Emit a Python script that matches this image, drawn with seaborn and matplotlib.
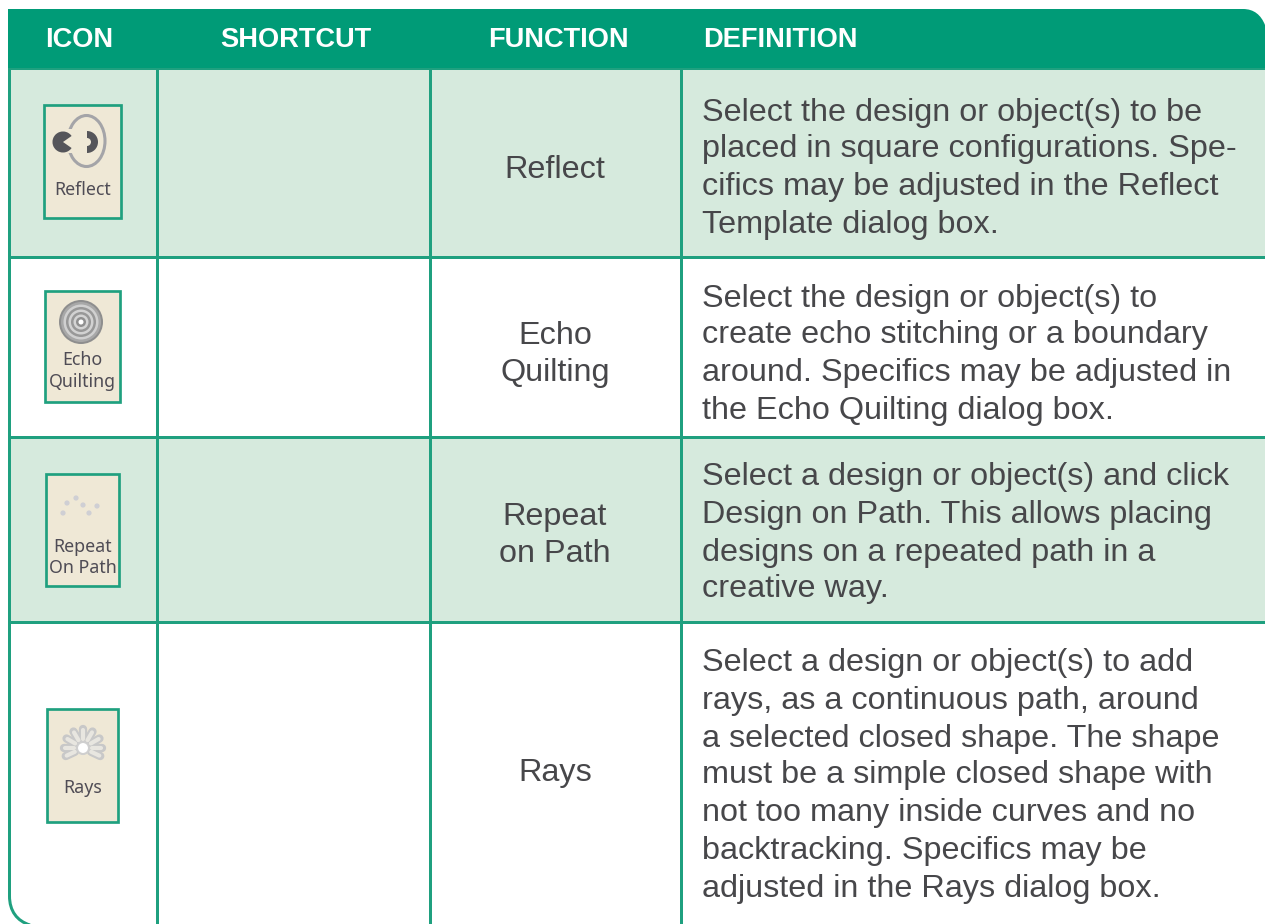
import numpy as np
import matplotlib
matplotlib.use("Agg")
import matplotlib.pyplot as plt
from matplotlib.patches import Rectangle, Circle, PathPatch, Wedge, Ellipse
from matplotlib.path import Path
import seaborn as sns

headers = ["ICON", "SHORTCUT", "FUNCTION", "DEFINITION"]
header_x = [45, 220, 488, 703]
functions = [["Reflect"], ["Echo", "Quilting"], ["Repeat", "on Path"], ["Rays"]]
function_y = [[167], [333, 370], [513, 550], [769]]
definitions = [
    ["Select the design or object(s) to be", "placed in square configurations. Spe-",
     "cifics may be adjusted in the Reflect", "Template dialog box."],
    ["Select the design or object(s) to", "create echo stitching or a boundary",
     "around. Specifics may be adjusted in", "the Echo Quilting dialog box."],
    ["Select a design or object(s) and click", "Design on Path. This allows placing",
     "designs on a repeated path in a", "creative way."],
    ["Select a design or object(s) to add", "rays, as a continuous path, around",
     "a selected closed shape. The shape", "must be a simple closed shape with",
     "not too many inside curves and no", "backtracking. Specifics may be",
     "adjusted in the Rays dialog box."],
]
definition_y = [[109, 146, 184, 221], [295, 332, 369, 407], [474, 511, 549, 586],
                [660, 697, 735, 772, 810, 847, 885]]
row_edges = [68, 257, 437, 622, 924]
col_edges = [157, 430, 681]
icon_boxes = [(44, 105, 121, 218), (45, 291, 120, 402), (46, 474, 119, 586), (47, 709, 118, 822)]
icon_labels = [[("Reflect", 188)], [("Echo", 358), ("Quilting", 380)],
               [("Repeat", 545), ("On Path", 566)], [("Rays", 786)]]

GREEN = "#009b77"
LINE = "#1fa07f"
BAND = "#d6eadd"
CREAM = "#efe8d6"
TEXT = "#47474a"
ICON_TEXT = "#4f4c55"

sns.set_theme(style="white")
plt.rcParams["font.family"] = ["Liberation Sans", "DejaVu Sans"]

fig = plt.figure(figsize=(12.65, 9.24), dpi=100, facecolor="white")
ax = fig.add_axes([0, 0, 1, 1])
ax.set_xlim(0, 1265)
ax.set_ylim(924, 0)
ax.axis("off")

# row bands
for i in (0, 2):
    ax.add_patch(Rectangle((9, row_edges[i]), 1256, row_edges[i + 1] - row_edges[i],
                           fc=BAND, ec="none", zorder=1))

# header with rounded top-right corner
verts = [(8, 68), (8, 9), (1243, 9), (1254, 9), (1261, 15), (1265, 25), (1265, 68), (8, 68)]
codes = [Path.MOVETO, Path.LINETO, Path.LINETO, Path.CURVE4, Path.CURVE4, Path.CURVE4,
         Path.LINETO, Path.CLOSEPOLY]
ax.add_patch(PathPatch(Path(verts, codes), fc=GREEN, ec="none", zorder=3))

lw = 3 * 72 / 100
# left border with rounded lower corner
verts = [(9.5, 68), (9.5, 896), (9.5, 911), (17, 921), (30, 925)]
codes = [Path.MOVETO, Path.LINETO, Path.CURVE4, Path.CURVE4, Path.CURVE4]
ax.add_patch(PathPatch(Path(verts, codes), fc="none", ec=LINE, lw=lw, zorder=2))
for x in col_edges:
    ax.plot([x, x], [68, 924], color=LINE, lw=lw, solid_capstyle="butt", zorder=2)
for y in row_edges[:-1]:
    ax.plot([9, 1265], [y, y], color=LINE, lw=lw, solid_capstyle="butt", zorder=2)

# header text
for h, x in zip(headers, header_x):
    ax.text(x, 37, h, color="white", fontsize=19.6, fontweight="bold", va="center_baseline",
            ha="left", zorder=4)

# body text
BODY = 23.3
for labels, ys in zip(functions, function_y):
    for s, y in zip(labels, ys):
        ax.text(555, y, s, color=TEXT, fontsize=BODY, ha="center", va="center_baseline", zorder=4)
for lines, ys in zip(definitions, definition_y):
    for s, y in zip(lines, ys):
        ax.text(702, y, s, color=TEXT, fontsize=BODY, ha="left", va="center_baseline", zorder=4)

# icon tiles
for (x0, y0, x1, y1), labs in zip(icon_boxes, icon_labels):
    ax.add_patch(Rectangle((x0, y0), x1 - x0, y1 - y0, fc=CREAM, ec=LINE, lw=lw * 0.9, zorder=3))
    for s, y in labs:
        ax.text((x0 + x1) / 2, y, s, color=ICON_TEXT, fontsize=12.8, ha="center",
                va="center_baseline", fontfamily="Noto Sans", zorder=5)

# Reflect glyph
ax.add_patch(Ellipse((86.5, 141), 37, 51, fc="none", ec="#a4a4a8", lw=2.2, zorder=4))
ax.add_patch(Rectangle((64, 129), 12, 24, fc=CREAM, ec="none", zorder=4.1))
ax.add_patch(Wedge((63, 142), 10.5, 35, 325, fc="#55555a", ec="none", zorder=5))
ax.add_patch(Wedge((87, 142), 11, -90, 90, fc="#55555a", ec="none", zorder=5))
ax.add_patch(Circle((87, 142), 4, fc=CREAM, ec="none", zorder=5.1))

# Echo Quilting glyph
for rad, col in zip([22, 20, 17.5, 15, 12.5, 10, 7.5, 5],
                    ["#8e8e8e", "#a8a8a8", "#d0d0d0", "#989898", "#d2d2d2", "#989898",
                     "#d4d4d4", "#909090"]):
    ax.add_patch(Circle((81, 322), rad, fc=col, ec="none", zorder=4))
ax.add_patch(Circle((81, 322), 2.5, fc="white", ec="none", zorder=4.1))

# Repeat glyph
for x, y in [(63, 513), (67, 503), (76, 498), (83, 505), (89, 513), (97, 506)]:
    ax.add_patch(Circle((x, y), 2.6, fc="#cfcfd4", ec="none", zorder=4))

# Rays glyph
for ang in [-150, -120, -90, -60, -30, 0, 25, 180, 155]:
    t = np.deg2rad(ang)
    ax.plot([83 + 9 * np.cos(t), 83 + 19 * np.cos(t)], [748 + 9 * np.sin(t), 748 + 19 * np.sin(t)],
            color="#c8c8c8", lw=6, solid_capstyle="round", zorder=4)
    ax.plot([83 + 9 * np.cos(t), 83 + 18 * np.cos(t)], [748 + 9 * np.sin(t), 748 + 18 * np.sin(t)],
            color="#e8e6e0", lw=3, solid_capstyle="round", zorder=4.1)
ax.add_patch(Circle((83, 748), 6, fc="white", ec="#cfcfcf", lw=1.5, zorder=5))

fig.savefig("out.png", dpi=100, facecolor="white")
